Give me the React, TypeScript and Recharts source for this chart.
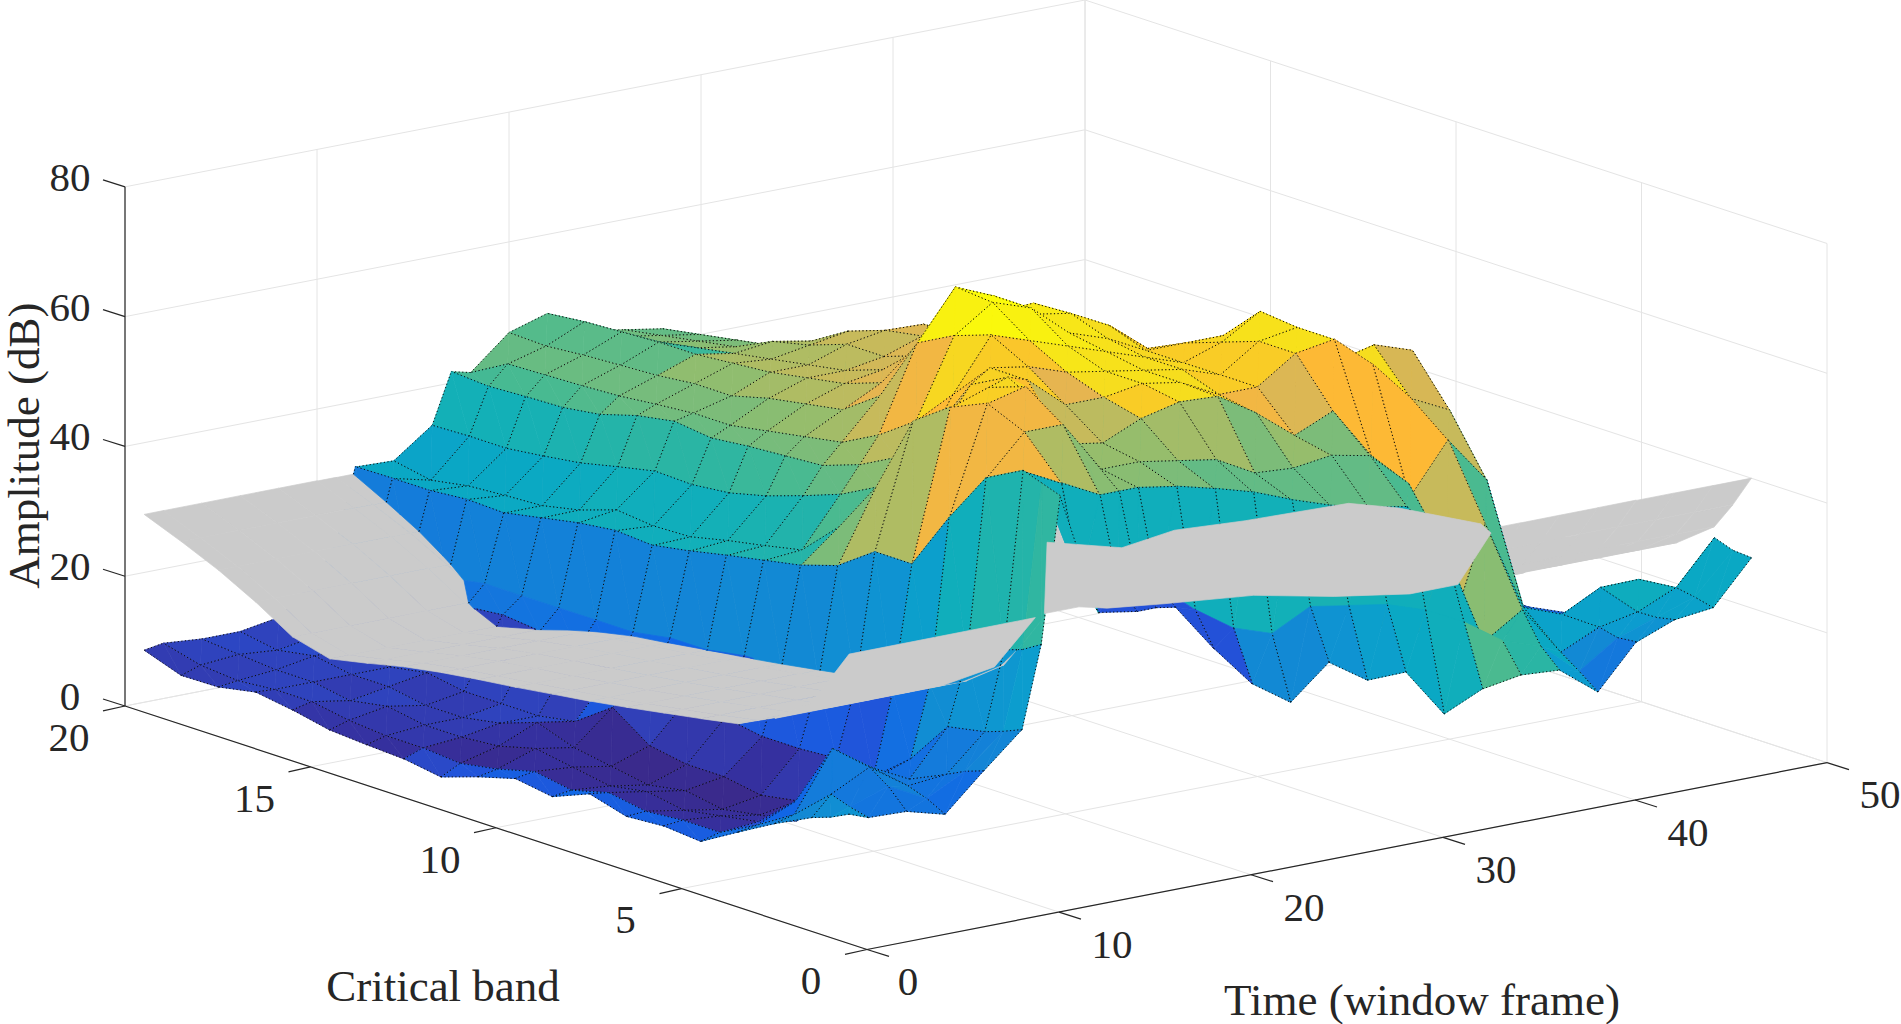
import { Scatter, ScatterChart, XAxis, YAxis } from 'recharts';

const timeFrames = [1, 2, 4, 6, 8, 10, 11, 12, 14, 16, 17, 18, 20, 22, 24, 26, 28, 30, 32, 34, 36, 38, 40, 42, 44, 46, 48];
const criticalBands = [1, 1.5, 2, 3, 4, 5, 6, 7, 8, 9, 10, 11, 12, 13, 14, 15, 16, 17, 18, 19, 20];

// amplitude (dB) per critical band, one list per time frame
const f01 = [18.4, 17, 16, 13.2, 10, 6.7, 7.2, 6.8, 8.4, 6.1, 7, 5.4, 3.5, 4.4, 4.7, 5.1, 6.3, 7.2, 6.1, 6, 8];
const f02 = [17.3, 18, 19, 14, 10.5, 7.5, 7.5, 7, 8, 6.5, 7.5, 6, 5, 5.5, 5.5, 6, 7, 7, 6.5, 7, 8.5];
const f04 = [17.1, 20, 22, 23, 13, 8, 7, 6, 7, 6, 7, 8, 6.5, 6, 6, 7, 6, 7, 7, 7.5, 8];
const f06 = [15.5, 17, 18, 19, 15, 7, 6, 5, 6, 5, 6, 7, 9, 7, 6, 6, 7, 7, 8, 7, 8];
const f08 = [21, 20, 18.6, 16, 14, 9, 7, 6, 7, 7, 8, 12, 8, 7, 7, 7, 8, 7, 8, 8, 9];
const f10 = [26.2, 25, 24, 22.9, 16.1, 11.5, 12.4, 12, 12, 13, 14, 15, 15, 16, 17, 17.6, 17, 16, 16, 15, 14];
const f11 = [38.7, 37, 36, 33, 27, 24, 23, 22, 22, 22, 21, 21, 20, 20, 20, 20, 20, 19, 19, 19, 19];
const f12 = [61, 62, 63, 60, 52, 43, 43, 39, 37.2, 36.1, 35, 33.8, 32.8, 33.2, 32.5, 31.4, 30.3, 30.5, 30, 30, 29.9];
const f14 = [42, 46, 60, 66, 68.5, 66, 62, 50, 42, 36.6, 35.4, 34.3, 33, 32.8, 33.4, 31.5, 30.3, 30, 29.6, 28.6, 29.7];
const f16 = [41, 44, 57, 66, 70, 68, 62, 53, 47, 44, 41.9, 40, 38.6, 38, 38.2, 37, 35.7, 34.9, 34.2, 34.2, 34];
const f17 = [41, 44, 57, 62, 66, 69, 66, 57, 51, 48, 46, 45.6, 45.2, 44.6, 45.3, 44.3, 42.6, 41.8, 41.6, 41.3, 41.7];
const f18 = [40.5, 43, 57, 58, 60, 68, 68, 62, 56, 52, 49, 48, 47, 46, 46, 45.5, 44.9, 44.6, 44.4, 44.2, 41];
const f20 = [33, 38, 56, 58, 59, 63, 67, 70, 68, 65, 55, 51, 50, 49, 47.5, 47.5, 46.9, 46.6, 46.3, 45.8, 46];
const f22 = [26.4, 34, 54.5, 57, 61.6, 63, 65, 68, 72, 72.5, 62, 54, 52, 51, 50, 49.5, 49, 49, 48.7, 48.4, 47.8];
const f24 = [22.4, 32, 52.8, 56, 63, 64, 64, 66, 70, 70, 69, 58, 53, 51, 50, 49, 48, 47, 46, 45, 44];
const f26 = [27.4, 35, 50.5, 52.8, 62.7, 63, 63, 64, 65, 66, 64.4, 56, 54, 52, 52, 50, 48.7, 46, 45, 44, 43];
const f28 = [23.5, 34, 48.5, 52.4, 59, 60, 62, 62, 63, 65, 64.7, 57, 53, 54, 53, 51, 47.6, 45, 44, 43, 42];
const f30 = [23.6, 33, 47, 53.2, 54.4, 60, 60, 60, 60, 62, 61.5, 56, 52, 52, 52.8, 46, 43.3, 42, 41, 40, 39];
const f32 = [16, 31, 46, 52, 57, 64, 64, 62, 60, 57.3, 58.9, 54, 50, 50, 50, 44, 41.6, 40, 39, 38, 37];
const f34 = [18.7, 28, 38, 46.6, 49, 65, 65, 65.6, 60, 56, 53.4, 50, 48, 47, 46, 42, 40, 38, 37, 36, 35];
const f36 = [19.7, 24, 22.9, 21, 41.3, 60, 58.6, 58.7, 56, 54, 50, 46, 44, 43, 42, 40, 38, 36, 35, 34, 33];
const f38 = [19.3, 22, 26.7, 38, 49, 53.6, 60, 55, 50, 48, 45, 40, 38, 36, 34, 32, 30, 28, 26, 25, 24];
const f40 = [14.8, 17, 19, 24, 41.8, 50.7, 58, 50, 44, 40, 35, 28, 20, 15, 13, 12, 12, 12, 11, 11, 11];
const f42 = [21.3, 21, 21.7, 21.8, 20, 15, 13, 12, 11, 11, 10, 10, 10, 10, 10, 10, 10, 10, 10, 10, 10];
const f44 = [23.6, 23, 22.9, 24.8, 18, 14, 12, 11, 12, 10, 11, 10, 9, 10, 11, 10, 9, 10, 11, 10, 10];
const f46 = [24.3, 25, 25.5, 24.9, 19, 15, 13, 12, 11, 12, 10, 11, 10, 9, 10, 11, 10, 10, 9, 10, 10];
const f48 = [30.8, 31, 32, 21.7, 18, 14, 13, 12, 12, 11, 11, 10, 11, 10, 10, 9, 10, 10, 10, 10, 10];
const amplitude = [f01, f02, f04, f06, f08, f10, f11, f12, f14, f16, f17, f18, f20, f22, f24, f26, f28, f30, f32, f34, f36, f38, f40, f42, f44, f46, f48];

// the grey hearing threshold sheet, per critical band (flat in time)
const thresholdLevels = [43, 38, 33.7, 29.4, 26.6, 25.5, 24.5, 23.5, 22.6, 21.8, 21, 20.3, 19.5, 18.5, 17.2, 16, 17.5, 21, 24, 26.5, 28.8];
// lowest band of the sheet that shows, per time frame
const sheetStartBand = [1, 1, 1, 1, 1, 1, 9, 9, 9, 9, 9, 9, 9, 9, 9, 9, 8, 8, 7, 1, 1, 1, 1, 1, 1, 1, 1];
// pieces of the sheet that the original renderer painted over the surface
const fishTimes = [34.5, 35.5, 39.2, 42.3, 47.3, 48, 48, 47, 38.5, 36, 34, 32.3, 29, 27, 26.5, 24.7];
const fishBands = [13, 11.5, 12, 11.7, 11.5, 10.5, 8.3, 7.5, 4, 4, 5, 6.3, 7, 7.5, 8, 8];
const wedgeTimes = [1, 1, 1, 10.7, 10.5, 9.7];
const wedgeBands = [3, 2, 1, 1, 2, 3];

// facet shade (dB on the colour scale) for the steep low bands, where the flat colour is not the vertex height
const shadeFrames = [22, 24, 26, 28, 30, 32, 34, 36, 38, 40, 42, 44, 46];
const shadeBand1 = [22, 22, 24, 27, 30, 33, 42, 38, 26, 18, 24, 28, 30];
const shadeBand15 = [34, 34, 35, 34, 33, 33, 33, 38, 30, 22, 26, 28, 30];
const shadeBand2 = [44, 44, 44, 44, 44, 42, 46, 47, 34, 28, 28, 32, 38];
const shadeBand3 = [49, 49, 46, 48, 46, 48, 49, 52, 42, 30, 30, 35, 38];
const shadeBand4 = [60, 63, 60, 56, 54, 57, 57, 57, 52, 38, 25, 24, 24];
const shadeRows = [shadeBand1, shadeBand15, shadeBand2, shadeBand3, shadeBand4];

const colorLevels = [3, 6, 8, 11, 14, 18, 22, 26, 30, 34, 38, 42, 45, 48, 51, 55, 57, 60, 63, 67, 71];
const colorStops = ['#3a2a8c', '#35309f', '#3140b8', '#2351d8', '#1166e6', '#1478dc', '#1289d4', '#0c9ccf', '#0aa8c4', '#12b0b8', '#2ab5a4', '#4aba90', '#6fbc7f', '#96bd6c', '#bcbb5f', '#e6b550', '#fdb935', '#f9cc26', '#f6dd1e', '#f8ee12', '#fbfb0a'];

const zTicks = [0, 20, 40, 60, 80];
const bandTicks = [0, 5, 10, 15, 20];
const timeTicks = [0, 10, 20, 30, 40, 50];

const WIDTH = 1901;
const HEIGHT = 1024;
const SHEET = '#cbcbcb';
const GRID = '#e4e4e4';
const AXIS = '#262626';

// oblique view of MATLAB's 3-D axes
const view = (t: number, b: number, z: number) => [867 + 19.2 * t - 37.1 * b, 949 - 3.76 * t - 12.25 * b - 6.53 * z];

function colorOf(z: number) {
  const hex = (s: string) => [1, 3, 5].map((k) => parseInt(s.slice(k, k + 2), 16));
  if (z <= colorLevels[0]) return colorStops[0];
  for (let i = 1; i < colorLevels.length; i++) {
    if (z <= colorLevels[i]) {
      const f = (z - colorLevels[i - 1]) / (colorLevels[i] - colorLevels[i - 1]);
      const a = hex(colorStops[i - 1]);
      const c = hex(colorStops[i]);
      return `rgb(${a.map((v, k) => Math.round(v + (c[k] - v) * f)).join(',')})`;
    }
  }
  return colorStops[colorStops.length - 1];
}

function shadeOf(t: number, b: number, i: number, z: number) {
  const row = shadeFrames.indexOf(t);
  if (row >= 0 && i < shadeRows.length) return shadeRows[i][row];
  if (t >= 12 && t <= 20 && i === 1) return 33;
  if (t === 12 && i === 0) return 33;
  if (t > 12 && t <= 20 && i === 0) return 11;
  if (t === 12 && b <= 4) return 56;
  if (t === 12 && b <= 6) return 50;
  if (t === 12 && b === 7) return 46;
  if (t >= 14 && t <= 20 && (b === 2 || b === 3)) return z - 10;
  if (t >= 14 && t <= 20 && b >= 4 && b <= 6) return z - 8;
  if (t === 36 && b >= 5 && b <= 8) return z + 3;
  if (t === 22 && b >= 16) return z - 9;
  if (t === 20 && b >= 16) return z - 3;
  if (t === 1 && b <= 12) return z + 6;
  if (t >= 2 && t <= 6 && b >= 5 && b <= 11) return z - 2;
  if (t <= 8 && b > 12) return z + 1.5;
  return z;
}

type Node = { t: number; b: number; z: number; g: number };

const nodeAt = (j: number, i: number): Node => ({
  t: timeFrames[j],
  b: criticalBands[i],
  z: amplitude[j][i],
  g: thresholdLevels[i],
});

const mix = (p: Node, q: Node, f: number): Node => ({
  t: p.t + (q.t - p.t) * f,
  b: p.b + (q.b - p.b) * f,
  z: p.z + (q.z - p.z) * f,
  g: p.g + (q.g - p.g) * f,
});

// keep the part of a polygon on one side of the sheet
function clip(poly: Node[], side: number) {
  const out: Node[] = [];
  poly.forEach((p, k) => {
    const q = poly[(k + 1) % poly.length];
    const hp = (p.z - p.g) * side;
    const hq = (q.z - q.g) * side;
    if (hp >= 0) out.push(p);
    if (hp >= 0 !== hq >= 0) out.push(mix(p, q, hp / (hp - hq)));
  });
  return out;
}

function pathOf(points: number[][], ax: number, ay: number, close: boolean) {
  const d = points.map((p, k) => `${k ? 'L' : 'M'}${(p[0] - ax).toFixed(1)} ${(p[1] - ay).toFixed(1)}`).join('');
  return close ? `${d}Z` : d;
}

function buildLayers() {
  const below: any[] = [];
  const sheet: any[] = [];
  const above: any[] = [];
  for (let i = criticalBands.length - 2; i >= 0; i--) {
    for (let j = timeFrames.length - 2; j >= 0; j--) {
      const a = nodeAt(j, i);
      const c = nodeAt(j + 1, i);
      const e = nodeAt(j + 1, i + 1);
      const f = nodeAt(j, i + 1);
      const [ax, ay] = view(a.t, a.b, a.z);
      const fill = colorOf(shadeOf(a.t, a.b, i, a.z));
      const onTop = a.t >= 12 && a.t < 40 && a.b < 4;
      const toScreen = (n: Node) => view(n.t, n.b, n.z);

      const edges: Node[][] = [];
      if (criticalBands[i] !== 1.5) edges.push([a, c]);
      if (criticalBands[i + 1] !== 1.5) edges.push([f, e]);
      if (!(a.t === 11 && a.b > 5)) edges.push([a, f]);
      if (!(c.t === 11 && c.b > 5)) edges.push([c, e]);

      [-1, 1].forEach((side) => {
        const polys: any[] = [];
        let lines = '';
        const upper = side === 1;
        if (onTop) {
          if (upper) {
            [[a, c, e], [a, e, f]].forEach((tri) => polys.push({ d: pathOf(tri.map(toScreen), ax, ay, true), fill }));
            edges.forEach((s) => (lines += pathOf(s.map(toScreen), ax, ay, false)));
          }
        } else {
          [[a, c, e], [a, e, f]].forEach((tri) => {
            const piece = clip(tri, side);
            if (piece.length > 2) polys.push({ d: pathOf(piece.map(toScreen), ax, ay, true), fill });
          });
          edges.forEach(([p, q]) => {
            const hp = (p.z - p.g) * side;
            const hq = (q.z - q.g) * side;
            if (hp < 0 && hq < 0) return;
            const cut = hp >= 0 !== hq >= 0 ? mix(p, q, hp / (hp - hq)) : null;
            const seg = cut ? (hp >= 0 ? [p, cut] : [cut, q]) : [p, q];
            lines += pathOf(seg.map(toScreen), ax, ay, false);
          });
        }
        if (polys.length || lines) (upper ? above : below).push({ x: ax, y: ay, polys, lines });
      });

      if (a.b >= sheetStartBand[j]) {
        const pts = [a, c, e, f].map((n) => view(n.t, n.b, n.g));
        sheet.push({ x: ax, y: ay, polys: [{ d: pathOf(pts, ax, ay, true), fill: SHEET }], lines: '' });
      }
    }
  }
  return { below, sheet, above };
}

function thresholdAt(b: number) {
  for (let i = 1; i < criticalBands.length; i++) {
    if (b <= criticalBands[i]) {
      const f = (b - criticalBands[i - 1]) / (criticalBands[i] - criticalBands[i - 1]);
      return thresholdLevels[i - 1] + (thresholdLevels[i] - thresholdLevels[i - 1]) * f;
    }
  }
  return thresholdLevels[thresholdLevels.length - 1];
}

function overlayOf(times: number[], bands: number[]) {
  const pts = times.map((t, k) => view(t, bands[k], thresholdAt(bands[k])));
  return { x: pts[0][0], y: pts[0][1], polys: [{ d: pathOf(pts, pts[0][0], pts[0][1], true), fill: SHEET }], lines: '' };
}

const CellMark = (p: any) => {
  const { cx, cy, payload } = p;
  return (
    <g transform={`translate(${cx},${cy})`}>
      {payload.polys.map((s: any, k: number) => (
        <path key={k} d={s.d} fill={s.fill} stroke={s.fill} strokeWidth={0.7} strokeLinejoin="round" />
      ))}
      {payload.lines ? <path d={payload.lines} fill="none" stroke="#0b0b0b" strokeWidth={1} strokeDasharray="1.2 2.4" /> : null}
    </g>
  );
};

const NoMark = () => <g />;

const TextMark = (p: any) => {
  const { cx, cy, payload } = p;
  return (
    <text
      x={cx}
      y={cy}
      textAnchor="middle"
      dominantBaseline="central"
      fontFamily="'Liberation Serif', serif"
      fontSize={payload.size}
      fill={AXIS}
      transform={payload.rotate ? `rotate(${payload.rotate} ${cx} ${cy})` : undefined}
    >
      {payload.text}
    </text>
  );
};

function segment(p: number[], q: number[], color: string) {
  return { points: [{ x: p[0], y: p[1] }, { x: q[0], y: q[1] }], color };
}

function frameSegments() {
  const grid: any[] = [];
  zTicks.forEach((z) => {
    grid.push(segment(view(0, 20, z), view(50, 20, z), GRID));
    grid.push(segment(view(50, 20, z), view(50, 0, z), GRID));
  });
  timeTicks.forEach((t) => {
    grid.push(segment(view(t, 0, 0), view(t, 20, 0), GRID));
    grid.push(segment(view(t, 20, 0), view(t, 20, 80), GRID));
  });
  bandTicks.forEach((b) => {
    grid.push(segment(view(0, b, 0), view(50, b, 0), GRID));
    grid.push(segment(view(50, b, 0), view(50, b, 80), GRID));
  });
  const axes: any[] = [
    segment(view(0, 20, 0), view(0, 20, 80), AXIS),
    segment(view(0, 20, 0), view(0, 0, 0), AXIS),
    segment(view(0, 0, 0), view(50, 0, 0), AXIS),
  ];
  zTicks.forEach((z) => {
    const p = view(0, 20, z);
    axes.push(segment(p, [p[0] - 22, p[1] - 7], AXIS));
  });
  bandTicks.forEach((b) => {
    const p = view(0, b, 0);
    axes.push(segment(p, [p[0] - 22, p[1] + 5], AXIS));
  });
  timeTicks.forEach((t) => {
    const p = view(t, 0, 0);
    axes.push(segment(p, [p[0] + 22, p[1] + 7], AXIS));
  });
  return { grid, axes };
}

function labelRows() {
  const rows: any[] = [];
  zTicks.forEach((z) => {
    const p = view(0, 20, z);
    rows.push({ x: p[0] - 55, y: p[1] - 10, text: String(z), size: 41 });
  });
  bandTicks.forEach((b) => {
    const p = view(0, b, 0);
    rows.push({ x: p[0] - 56, y: p[1] + 31, text: String(b), size: 41 });
  });
  timeTicks.forEach((t) => {
    const p = view(t, 0, 0);
    rows.push({ x: p[0] + (t === 0 ? 41 : 53), y: p[1] + 32, text: String(t), size: 41 });
  });
  rows.push({ x: 443, y: 986, text: 'Critical band', size: 45 });
  rows.push({ x: 1422, y: 1000, text: 'Time (window frame)', size: 45 });
  rows.push({ x: 24, y: 442, text: 'Amplitude (dB)', size: 45, rotate: -90 });
  return rows;
}

export default function App() {
  const { below, sheet, above } = buildLayers();
  const { grid, axes } = frameSegments();
  const overlays = [overlayOf(fishTimes, fishBands), overlayOf(wedgeTimes, wedgeBands)];
  return (
    <div style={{ position: 'absolute', left: 0, top: 0, width: WIDTH, height: HEIGHT, background: '#fff' }}>
      <ScatterChart width={WIDTH} height={HEIGHT} margin={{ top: 0, right: 0, bottom: 0, left: 0 }}>
        <XAxis type="number" dataKey="x" domain={[0, WIDTH]} hide />
        <YAxis type="number" dataKey="y" domain={[0, HEIGHT]} reversed hide />
        {grid.map((s, k) => (
          <Scatter key={`g${k}`} data={s.points} line={{ stroke: s.color, strokeWidth: 1 }} shape={NoMark} isAnimationActive={false} />
        ))}
        {axes.map((s, k) => (
          <Scatter key={`a${k}`} data={s.points} line={{ stroke: s.color, strokeWidth: 1.2 }} shape={NoMark} isAnimationActive={false} />
        ))}
        <Scatter data={below} shape={CellMark} isAnimationActive={false} />
        <Scatter data={sheet} shape={CellMark} isAnimationActive={false} />
        <Scatter data={above} shape={CellMark} isAnimationActive={false} />
        <Scatter data={overlays} shape={CellMark} isAnimationActive={false} />
        <Scatter data={labelRows()} shape={TextMark} isAnimationActive={false} />
      </ScatterChart>
    </div>
  );
}
